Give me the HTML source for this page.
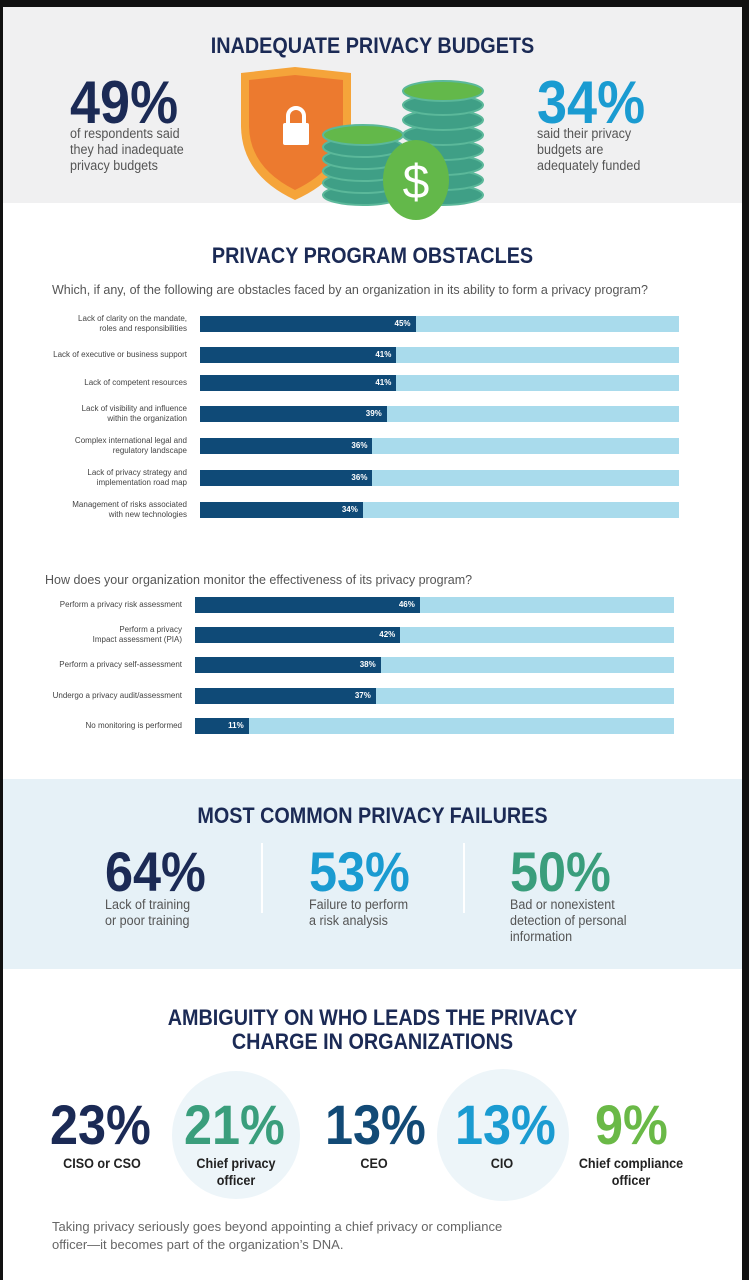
<!DOCTYPE html>
<html><head><meta charset="utf-8"><style>
*{margin:0;padding:0;box-sizing:border-box}
body{width:749px;height:1280px;background:#111;position:relative;overflow:hidden;font-family:"Liberation Sans",sans-serif}
#page{position:absolute;left:3px;top:7px;width:739px;height:1273px;background:#fff;overflow:hidden}
.abs{position:absolute}
.h{font-weight:bold;color:#1b2a55;font-size:22px;text-align:center;left:0;width:739px;transform:scaleX(0.9);transform-origin:center}
.big{font-weight:bold;line-height:1;transform:scaleX(0.9);transform-origin:left}
.txt{color:#555;font-size:13.5px;line-height:16px;transform:scaleX(0.93);transform-origin:left;white-space:nowrap}
.lbl{position:absolute;font-size:8px;color:#444;text-align:right;line-height:10px;width:190px}
.role{font-weight:bold;font-size:14px;color:#222;text-align:center;line-height:17px;position:absolute;width:140px;transform:scaleX(0.9)}
</style></head><body>
<div id="page">
<div class="abs" style="left:0;top:0;width:739px;height:196px;background:#f0f0f1"></div>
<div class="abs h" style="top:26px">INADEQUATE PRIVACY BUDGETS</div>
<div class="abs big" style="left:67px;top:66px;font-size:60px;color:#1b2a55">49%</div>
<div class="abs txt" style="left:67px;top:119px">of respondents said<br>they had inadequate<br>privacy budgets</div>
<div class="abs big" style="left:534px;top:66px;font-size:60px;color:#1a9bd1">34%</div>
<div class="abs txt" style="left:534px;top:119px">said their privacy<br>budgets are<br>adequately funded</div>
<svg class="abs" style="left:230px;top:58px" width="260" height="160">
<path d="M8 8 L62 2 L118 8 L118 60 Q118 110 62 135 Q8 110 8 60Z" fill="#f5a43a"/>
<path d="M16 15 L62 10 L110 15 L110 60 Q110 102 62 125 Q16 102 16 60Z" fill="#ec7a2f"/>
<rect x="50" y="58" width="26" height="22" rx="2" fill="#fff"/>
<path d="M55 58 v-7 a8 8 0 0 1 16 0 v7" stroke="#fff" stroke-width="4" fill="none"/>
<g fill="#3f9f86" stroke="#5bb89a" stroke-width="2">
<ellipse cx="130" cy="130" rx="40" ry="10"/><ellipse cx="130" cy="118" rx="40" ry="10"/><ellipse cx="130" cy="106" rx="40" ry="10"/><ellipse cx="130" cy="94" rx="40" ry="10"/><ellipse cx="130" cy="82" rx="40" ry="10"/><ellipse cx="130" cy="70" rx="40" ry="10" fill="#63b84a"/>
<ellipse cx="210" cy="130" rx="40" ry="10"/><ellipse cx="210" cy="115" rx="40" ry="10"/><ellipse cx="210" cy="100" rx="40" ry="10"/><ellipse cx="210" cy="85" rx="40" ry="10"/><ellipse cx="210" cy="70" rx="40" ry="10"/><ellipse cx="210" cy="55" rx="40" ry="10"/><ellipse cx="210" cy="40" rx="40" ry="10"/><ellipse cx="210" cy="26" rx="40" ry="10" fill="#63b84a"/>
</g>
<ellipse cx="183" cy="115" rx="33" ry="40" fill="#63b84a"/>
<text x="183" y="133" font-size="48" fill="#fff" text-anchor="middle" font-family="Liberation Sans">$</text>
</svg>
<div class="abs h" style="top:236px">PRIVACY PROGRAM OBSTACLES</div>
<div class="abs" style="left:49px;top:276px;font-size:12.5px;color:#555">Which, if any, of the following are obstacles faced by an organization in its ability to form a privacy program?</div>
<div class="abs" style="left:42px;top:566px;font-size:12.5px;color:#555">How does your organization monitor the effectiveness of its privacy program?</div>
<div class="abs" style="left:0;top:772px;width:739px;height:190px;background:#e6f1f7"></div>
<div class="abs h" style="top:796px">MOST COMMON PRIVACY FAILURES</div>
<div class="abs big" style="left:102px;top:837px;font-size:56px;color:#1b2a55">64%</div>
<div class="abs txt" style="left:102px;top:890px">Lack of training<br>or poor training</div>
<div class="abs" style="left:258px;top:836px;width:2px;height:70px;background:#fff"></div>
<div class="abs big" style="left:306px;top:837px;font-size:56px;color:#1a9bd1">53%</div>
<div class="abs txt" style="left:306px;top:890px">Failure to perform<br>a risk analysis</div>
<div class="abs" style="left:460px;top:836px;width:2px;height:70px;background:#fff"></div>
<div class="abs big" style="left:507px;top:837px;font-size:56px;color:#3a9e7c">50%</div>
<div class="abs txt" style="left:507px;top:890px">Bad or nonexistent<br>detection of personal<br>information</div>
<div class="abs h" style="top:999px;line-height:24px">AMBIGUITY ON WHO LEADS THE PRIVACY<br>CHARGE IN ORGANIZATIONS</div>
<div class="abs" style="left:169px;top:1064px;width:128px;height:128px;border-radius:50%;background:#edf5f9"></div>
<div class="abs" style="left:434px;top:1062px;width:132px;height:132px;border-radius:50%;background:#edf5f9"></div>
<div class="abs big" style="left:47px;top:1090px;font-size:56px;color:#1b2a55">23%</div>
<div class="role" style="left:29px;top:1148px">CISO or CSO</div>
<div class="abs big" style="left:181px;top:1090px;font-size:56px;color:#3a9e7c">21%</div>
<div class="role" style="left:163px;top:1148px">Chief privacy<br>officer</div>
<div class="abs big" style="left:322px;top:1090px;font-size:56px;color:#124a76">13%</div>
<div class="role" style="left:301px;top:1148px">CEO</div>
<div class="abs big" style="left:452px;top:1090px;font-size:56px;color:#1a9bd1">13%</div>
<div class="role" style="left:429px;top:1148px">CIO</div>
<div class="abs big" style="left:592px;top:1090px;font-size:56px;color:#6ab947">9%</div>
<div class="role" style="left:558px;top:1148px">Chief compliance<br>officer</div>
<div class="abs" style="left:49px;top:1211px;font-size:13px;line-height:18px;color:#666">Taking privacy seriously goes beyond appointing a chief privacy or compliance<br>officer—it becomes part of the organization’s DNA.</div>
</div>
<script>
const obstacleCats=["Lack of clarity on the mandate,<br>roles and responsibilities","Lack of executive or business support","Lack of competent resources","Lack of visibility and influence<br>within the organization","Complex international legal and<br>regulatory landscape","Lack of privacy strategy and<br>implementation road map","Management of risks associated<br>with new technologies"];
const obstacleVals=[45,41,41,39,36,36,34];
const monitorCats=["Perform a privacy risk assessment","Perform a privacy<br>Impact assessment (PIA)","Perform a privacy self-assessment","Undergo a privacy audit/assessment","No monitoring is performed"];
const monitorVals=[46,42,38,37,11];
const page=document.getElementById('page');
function chart(cats,vals,x0,w,max,rowY,name){
  const sx=v=>v/max*w;
  cats.forEach((c,i)=>{
    const y=rowY(i);
    const bg=document.createElement('div');
    bg.className='abs';bg.style.cssText=`left:${x0}px;top:${y}px;width:${w}px;height:16px;background:#a9dbec`;
    
    
    page.appendChild(bg);
    const b=document.createElement('div');
    b.className='abs';b.style.cssText=`left:${x0}px;top:${y}px;width:${sx(vals[i])}px;height:16px;background:#0f4a77;color:#fff;font-size:8px;font-weight:bold;text-align:right;padding-right:5px;line-height:16px`;
    b.textContent=vals[i]+'%';
    
    
    page.appendChild(b);
    const l=document.createElement('div');
    l.className='lbl';l.innerHTML=c;
    const two=c.indexOf('<br>')>=0;
    l.style.left=(x0-203)+'px';l.style.top=(y+(two?-2:3))+'px';
    
    
    page.appendChild(l);
  });
}
chart(obstacleCats,obstacleVals,197,479,100,i=>[309,340,368,399,431,463,495][i],'obstacle');
chart(monitorCats,monitorVals,192,479,98,i=>590+i*30.2,'monitor');
</script>
</body></html>
